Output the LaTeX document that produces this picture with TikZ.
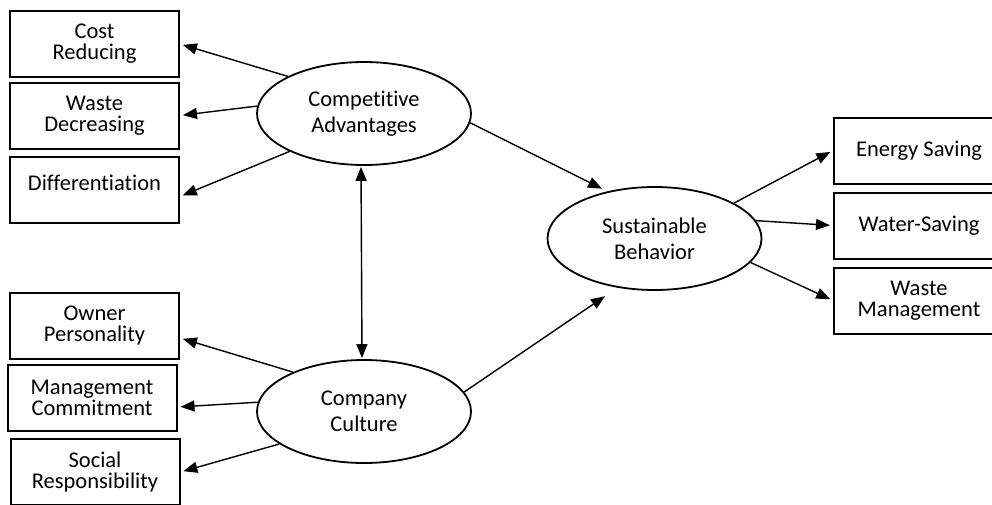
\documentclass[tikz,border=0pt]{standalone}
\usepackage{fontspec}
\setmainfont{Carlito}[Ligatures = NoCommon]
\usetikzlibrary{arrows.meta,shapes.geometric}

\begin{document}
\begin{tikzpicture}[
      x = 1pt, y = -1pt, % one unit per pixel of the layout
      > = {Triangle[length=14pt,width=11pt]}, % arrow head style
      shorten > = 3pt, % don't touch arrow head to node
      line width = 1.4pt
      ]

      \tikzset{
      every node/.style = {font = \fontsize{22.5}{21}\selectfont, align = center},
      item/.style = {draw = black, line width = 2pt, fill = white,
        minimum width = 169pt, minimum height = 66pt, inner sep = 0pt},
      latent/.style = {ellipse, draw = black, line width = 1.8pt, fill = white,
        minimum width = 214pt, minimum height = 103pt, inner sep = 0pt,
        font = \fontsize{22.5}{26}\selectfont}
      }

      \clip (0,0) rectangle (992,504);

      % latent variables
      \node[latent] (ca) at (364,113.5) {Competitive\\Advantages};
      \node[latent] (cc) at (364,411.5) {Company\\Culture};
      \node[latent] (sb) at (654.5,238.5) {Sustainable\\Behavior};

      % indicators
      \node[item] (cr) at (94.5,44) {Cost\\Reducing};
      \node[item] (wd) at (94.5,115.5) {Waste\\Decreasing};
      \node[item, text depth = 14pt] (df) at (94.5,189.5) {Differentiation};
      \node[item] (op) at (94.5,326) {Owner\\Personality};
      \node[item] (mc) at (92,398) {Management\\Commitment};
      \node[item] (sr) at (95,472) {Social\\Responsibility};
      \node[item, minimum width = 170pt] (es) at (919,150.5) {Energy Saving};
      \node[item, minimum width = 170pt] (ws) at (919,225.5) {Water-Saving};
      \node[item, minimum width = 170pt] (wm) at (919,300.5) {Waste\\Management};

      \draw[->] (ca.154) -- (cr.east);
      \draw[->] (ca.176) -- (wd.east);
      \draw[->] (ca.207) -- ([yshift=-7pt]df.east);

      \draw[<->, shorten < = 1pt, shorten > = 1pt] ([xshift=-3pt]ca.south) -- ([xshift=-2pt]cc.north);
      \draw[->, shorten > = 6pt] (ca.-5) -- (sb.135);
      \draw[->, shorten > = 15pt] (cc.11) -- (sb.-127);

      \draw[->] (cc.151) -- ([yshift=-12pt]op.east);
      \draw[->] (cc.175) -- ([yshift=-9pt]mc.east);
      \draw[->] (cc.201) -- (sr.east);

      \draw[->] (sb.24) -- (es.west);
      \draw[->] (sb.10) -- (ws.west);
      \draw[->] (sb.-14) -- (wm.west);

    \end{tikzpicture}
\end{document}
